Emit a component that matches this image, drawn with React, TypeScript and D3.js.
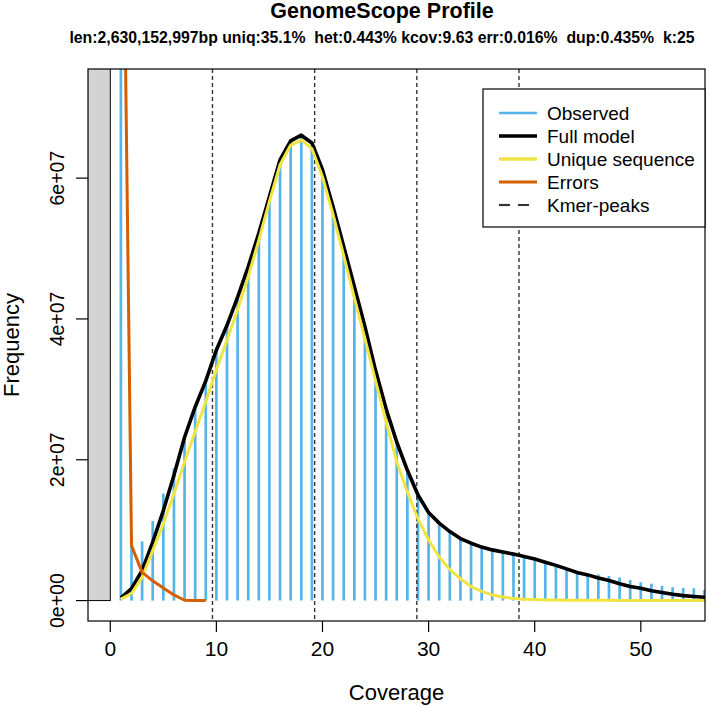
import React, { useEffect } from "react";
import * as d3 from "d3";

// k-mer frequencies in millions, index 0 = coverage 1
const startCoverage = 1;
const observed = [
  140, 9.5, 8.4, 11.3, 15.2, 18.8, 23.2, 27.5, 31.2, 35.6,
  39.1, 43.1, 47.4, 52.2, 57.4, 62.6, 65.3, 66.1, 65.0, 61.2,
  55.9, 50.3, 44.6, 38.9, 32.7, 27.2, 22.5, 18.3, 14.9, 12.4,
  10.9, 9.7, 8.8, 8.1, 7.5, 7.1, 6.8, 6.5, 6.1, 5.8,
  5.45, 4.8, 4.45, 4.1, 3.8, 3.7, 3.5, 3.3, 2.9, 2.6,
  2.4, 2.1, 1.9, 1.8, 1.75, 1.5,
];
const fullModel = [
  0.4, 1.7, 4.3, 8.3, 12.8, 17.8, 23.2, 27.5, 31.2, 35.6,
  39.1, 43.1, 47.4, 52.2, 57.4, 62.6, 65.3, 66.1, 65.0, 61.2,
  55.9, 50.3, 44.6, 38.9, 32.7, 27.2, 22.5, 18.5, 15.0, 12.5,
  11.0, 9.8, 8.8, 8.15, 7.6, 7.2, 6.9, 6.6, 6.26, 5.9,
  5.45, 5.0, 4.5, 4.0, 3.65, 3.2, 2.85, 2.4, 2.0, 1.75,
  1.4, 1.15, 0.9, 0.7, 0.57, 0.47, 0.38,
];
const uniqueSeq = [
  0.2, 1.0, 3.3, 7.1, 10.9, 15.2, 19.7, 24.0, 28.2, 32.8,
  37.0, 41.3, 46.0, 51.2, 56.7, 61.9, 64.7, 65.4, 64.2, 60.2,
  54.8, 49.0, 43.0, 37.2, 31.2, 25.3, 19.7, 15.4, 11.6, 8.6,
  6.2, 4.4, 3.1, 2.0, 1.3, 0.8, 0.5, 0.3, 0.2, 0.15,
  0.1, 0.08, 0.06, 0.05, 0.04, 0.03, 0.03, 0.02, 0.02, 0.02,
  0.01, 0.01, 0.01, 0.01, 0.01, 0.01, 0.01,
];
const errors = [130, 7.8, 4.0, 2.8, 1.8, 0.8, 0.05, 0, 0];
const kmerPeaks = [9.63, 19.26, 28.89, 38.52];

const xTicks = [0, 10, 20, 30, 40, 50];
const yTicks = [0, 20, 40, 60];
const yTickLabels = ["0e+00", "2e+07", "4e+07", "6e+07"];

const title = "GenomeScope Profile";
const subtitle =
  "len:2,630,152,997bp uniq:35.1%  het:0.443% kcov:9.63 err:0.016%  dup:0.435%  k:25";

const COL_OBS = "#56B4E9";
const COL_MODEL = "#000000";
const COL_UNIQUE = "#F0E442";
const COL_ERR = "#D55E00";
const COL_PEAK = "#333333";

const legendItems = [
  { label: "Observed", color: COL_OBS, width: 2.7, dash: "" },
  { label: "Full model", color: COL_MODEL, width: 3.3, dash: "" },
  { label: "Unique sequence", color: COL_UNIQUE, width: 3.3, dash: "" },
  { label: "Errors", color: COL_ERR, width: 2.8, dash: "" },
  { label: "Kmer-peaks", color: COL_PEAK, width: 2.2, dash: "11,8" },
];

const FONT = "'Liberation Sans', Arial, Helvetica, sans-serif";

export default function App() {
  useEffect(() => {
    document.body.style.margin = "0";
  }, []);

  const width = 709;
  const height = 707;
  const plot = { left: 88, right: 705, top: 69, bottom: 621 };

  const x = d3.scaleLinear().domain([-2.1, 56.05]).range([plot.left, plot.right]);
  const y = d3.scaleLinear().domain([-2.9, 75.5]).range([plot.bottom, plot.top]);

  const line = d3
    .line<number>()
    .x((_, i) => x(startCoverage + i))
    .y((d) => y(d));

  const legend = { x: 483, y: 89, w: 222, h: 138, row: 23 };

  return (
    <svg width={width} height={height} style={{ display: "block", background: "#fff" }} fontFamily={FONT}>
      <defs>
        <clipPath id="plot-clip">
          <rect x={plot.left} y={plot.top} width={plot.right - plot.left} height={plot.bottom - plot.top} />
        </clipPath>
      </defs>

      <text x={382} y={17.5} textAnchor="middle" fontSize={21.5} fontWeight="bold">
        {title}
      </text>
      <text x={382} y={42.5} textAnchor="middle" fontSize={15.8} fontWeight="bold" style={{ whiteSpace: "pre" }}>
        {subtitle}
      </text>

      <g clipPath="url(#plot-clip)">
        {/* shaded area left of zero */}
        <rect
          x={x(-10)}
          y={y(200)}
          width={x(0) - x(-10)}
          height={y(0) - y(200)}
          fill="#D3D3D3"
          stroke="#000"
          strokeWidth={1}
        />

        {observed.map((v, i) => (
          <line
            key={i}
            x1={x(startCoverage + i)}
            x2={x(startCoverage + i)}
            y1={y(0)}
            y2={y(v)}
            stroke={COL_OBS}
            strokeWidth={2.7}
          />
        ))}

        {kmerPeaks.map((p) => (
          <line
            key={p}
            x1={x(p)}
            x2={x(p)}
            y1={plot.top}
            y2={plot.bottom}
            stroke={COL_PEAK}
            strokeWidth={1.4}
            strokeDasharray="4,3"
          />
        ))}

        <path d={line(fullModel) ?? ""} fill="none" stroke={COL_MODEL} strokeWidth={3.6} strokeLinejoin="round" />
        <path d={line(uniqueSeq) ?? ""} fill="none" stroke={COL_UNIQUE} strokeWidth={3} strokeLinejoin="round" />
        <path d={line(errors) ?? ""} fill="none" stroke={COL_ERR} strokeWidth={3} strokeLinejoin="round" />
      </g>

      <rect
        x={plot.left}
        y={plot.top}
        width={plot.right - plot.left}
        height={plot.bottom - plot.top}
        fill="none"
        stroke="#000"
        strokeWidth={1.2}
      />

      {/* y axis */}
      {yTicks.map((t, i) => (
        <g key={t}>
          <line x1={plot.left - 12} x2={plot.left} y1={y(t)} y2={y(t)} stroke="#000" strokeWidth={1.2} />
          <text
            transform={`translate(64,${y(t)}) rotate(-90)`}
            textAnchor="middle"
            fontSize={19.5}
          >
            {yTickLabels[i]}
          </text>
        </g>
      ))}
      <text transform={`translate(19,${(plot.top + plot.bottom) / 2}) rotate(-90)`} textAnchor="middle" fontSize={22}>
        Frequency
      </text>

      {/* x axis */}
      {xTicks.map((t) => (
        <g key={t}>
          <line x1={x(t)} x2={x(t)} y1={plot.bottom} y2={plot.bottom + 11} stroke="#000" strokeWidth={1.2} />
          <text x={x(t)} y={656} textAnchor="middle" fontSize={21}>
            {t}
          </text>
        </g>
      ))}
      <text x={(plot.left + plot.right) / 2} y={700} textAnchor="middle" fontSize={22}>
        Coverage
      </text>

      {/* legend */}
      <rect x={legend.x} y={legend.y} width={legend.w} height={legend.h} fill="#fff" stroke="#000" strokeWidth={1.2} />
      {legendItems.map((item, i) => {
        const ry = legend.y + 24 + i * legend.row;
        return (
          <g key={item.label}>
            <line
              x1={legend.x + 16}
              x2={legend.x + 54}
              y1={ry}
              y2={ry}
              stroke={item.color}
              strokeWidth={item.width}
              strokeDasharray={item.dash || undefined}
            />
            <text x={legend.x + 64} y={ry + 7} fontSize={19}>
              {item.label}
            </text>
          </g>
        );
      })}
    </svg>
  );
}
